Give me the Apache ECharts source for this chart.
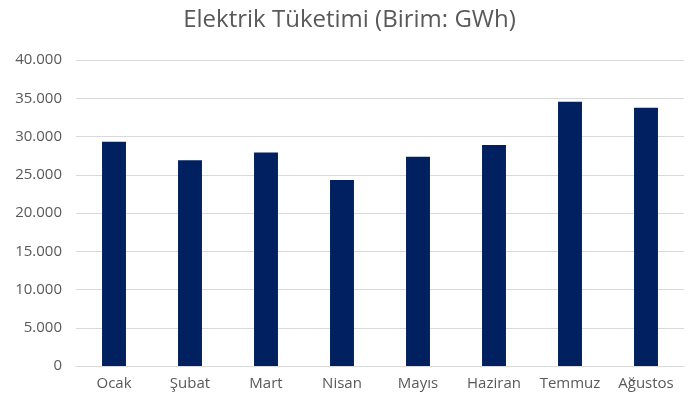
<!DOCTYPE html>
<html>
<head>
<meta charset="utf-8">
<script src="https://cdn.jsdelivr.net/npm/echarts@6/dist/echarts.min.js"></script>
<style>
html,body{margin:0;padding:0;background:#fff;}
#c{width:699px;height:405px;}
</style>
</head>
<body>
<div id="c"></div>
<script>
const categories = ["Ocak", "Şubat", "Mart", "Nisan", "Mayıs", "Haziran", "Temmuz", "Ağustos"];
const values = [29300, 26900, 27900, 24300, 27350, 28900, 34550, 33750];
const title = "Elektrik Tüketimi (Birim: GWh)";

const chart = echarts.init(document.getElementById('c'));
chart.setOption({
  backgroundColor: '#ffffff',
  animation: false,
  title: {
    text: title,
    left: 'center',
    top: 3,
    textStyle: { fontFamily: 'Open Sans', fontSize: 24, fontWeight: 'normal', color: '#595959' }
  },
  grid: { left: 76, right: 15, top: 60, bottom: 39 },
  xAxis: {
    type: 'category',
    data: categories,
    axisLine: { lineStyle: { color: '#d9d9d9' } },
    axisTick: { show: false },
    axisLabel: { interval: 0, hideOverlap: false, color: '#595959', fontFamily: 'Open Sans', fontSize: 15, margin: 10 }
  },
  yAxis: {
    type: 'value',
    min: 0, max: 40000, interval: 5000,
    axisLine: { show: false },
    axisTick: { show: false },
    splitLine: { lineStyle: { color: '#d9d9d9' } },
    axisLabel: {
      color: '#595959', fontFamily: 'Open Sans', fontSize: 15, margin: 14,
      formatter: v => v === 0 ? '0' : v.toString().replace(/\B(?=(\d{3})+(?!\d))/g, '.')
    }
  },
  series: [{
    type: 'bar',
    data: values,
    barWidth: '31.5%',
    itemStyle: { color: '#002060' }
  }]
});
</script>
</body>
</html>
